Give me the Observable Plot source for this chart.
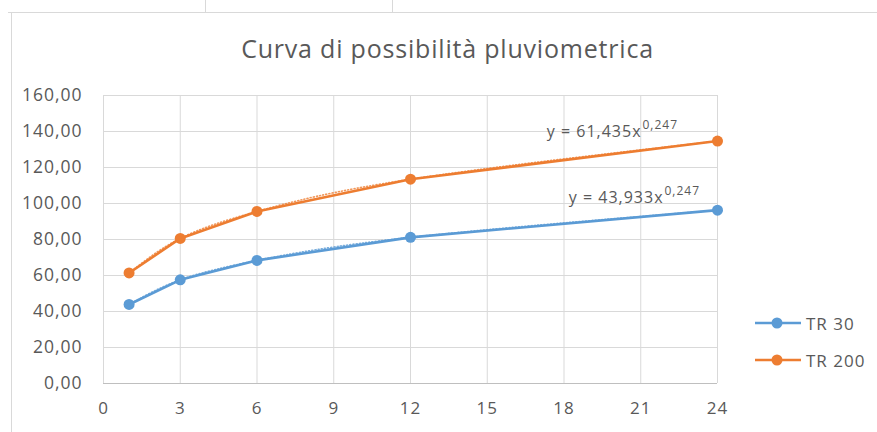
<!DOCTYPE html>
<html><head><meta charset="utf-8">
<script src="https://cdn.jsdelivr.net/npm/d3@7"></script>
<script src="https://cdn.jsdelivr.net/npm/@observablehq/plot@0.6"></script>
<style>
body{margin:0;background:#fff;font-family:"Open Sans",sans-serif;}
#wrap{position:relative;width:877px;height:432px;overflow:hidden;background:#fff;}
#wrap > svg{position:absolute;left:0;top:0;}
#wrap svg text{letter-spacing:1px;}
.deco{position:absolute;background:#d9d9d9;}
#title{position:absolute;left:9px;width:877px;top:30px;line-height:36px;text-align:center;font-size:25px;letter-spacing:0.8px;color:#595959;}
.leg{position:absolute;left:755px;height:20px;display:flex;align-items:center;font-size:17px;letter-spacing:1px;color:#595959;}
#wrap .leg svg{position:static;display:block;}
</style></head><body><div id="wrap">
<div class="deco" style="left:8px;top:12px;width:869px;height:1px"></div>
<div class="deco" style="left:205px;top:0;width:1px;height:12px"></div>
<div class="deco" style="left:392px;top:0;width:1px;height:12px"></div>
<div class="deco" style="left:11px;top:12px;width:1px;height:420px"></div>
<div id="title"></div>
</div>
<script>
const durations = [1, 3, 6, 12, 24];
const tr30 = [43.9, 57.6, 68.4, 81.2, 96.3];
const tr200 = [61.4, 80.6, 95.6, 113.5, 134.7];
const seriesNames = ["TR 30", "TR 200"];
const seriesColors = ["#5b9bd5", "#ed7d31"];
const trendBase = ["y = 43,933x", "y = 61,435x"];
const trendExp = ["0,247", "0,247"];
const xTicks = [0, 3, 6, 9, 12, 15, 18, 21, 24];
const yTicks = [0, 20, 40, 60, 80, 100, 120, 140, 160];
const chartTitle = "Curva di possibilità pluviometrica";

const rows = [];
durations.forEach((d, i) => {
  rows.push({x: d, y: tr30[i], s: seriesNames[0]});
  rows.push({x: d, y: tr200[i], s: seriesNames[1]});
});
const lastIdx = durations.length - 1;
const labels = [
  {x: durations[lastIdx], y: tr30[lastIdx], base: trendBase[0], exp: trendExp[0], s: seriesNames[0]},
  {x: durations[lastIdx], y: tr200[lastIdx], base: trendBase[1], exp: trendExp[1], s: seriesNames[1]}
];
const fmt = d => d.toFixed(2).replace(".", ",");

const chart = Plot.plot({
  width: 877, height: 432,
  marginLeft: 103, marginRight: 160, marginTop: 95, marginBottom: 49,
  x: {domain: [0, 24]},
  y: {domain: [0, 160]},
  color: {domain: seriesNames, range: seriesColors},
  style: {fontFamily: "Open Sans", fontSize: "17px", color: "#595959", background: "transparent"},
  marks: [
    Plot.gridX(xTicks, {stroke: "#d9d9d9", strokeOpacity: 1}),
    Plot.gridY(yTicks, {stroke: "#d9d9d9", strokeOpacity: 1}),
    Plot.ruleY([0], {stroke: "#bfbfbf"}),
    Plot.axisX(xTicks, {tickSize: 0, tickPadding: 18, label: null, fill: "#595959", fontSize: 17}),
    Plot.axisY(yTicks, {tickSize: 0, tickPadding: 21, label: null, tickFormat: fmt, fill: "#595959", fontSize: 17.5}),
    Plot.line(rows, {x: "x", y: "y", stroke: "s", z: "s", strokeWidth: 2.6}),
    Plot.line(rows, {x: "x", y: "y", stroke: "s", z: "s", curve: "natural", strokeWidth: 1.6, strokeDasharray: "1,2.2", strokeOpacity: 0.8}),
    Plot.dot(rows, {x: "x", y: "y", fill: "s", r: 5.5}),
    Plot.text(labels.slice(0,1), {x: "x", y: "y", text: "base", textAnchor: "end", dx: -54, dy: -12, fill: "#595959", fontSize: 16}),
    Plot.text(labels.slice(0,1), {x: "x", y: "y", text: "exp", textAnchor: "start", dx: -53, dy: -19, fill: "#595959", fontSize: 12}),
    Plot.text(labels.slice(1), {x: "x", y: "y", text: "base", textAnchor: "end", dx: -76, dy: -9, fill: "#595959", fontSize: 16}),
    Plot.text(labels.slice(1), {x: "x", y: "y", text: "exp", textAnchor: "start", dx: -75, dy: -16, fill: "#595959", fontSize: 12})
  ]
});
const wrap = document.getElementById("wrap");
wrap.appendChild(chart);
document.getElementById("title").textContent = chartTitle;

const legTops = [313, 350];
seriesNames.forEach((name, i) => {
  const div = document.createElement("div");
  div.className = "leg";
  div.style.top = legTops[i] + "px";
  div.innerHTML = `<svg width="48" height="20"><line x1="0" x2="46" y1="10" y2="10" stroke="${seriesColors[i]}" stroke-width="2.6"/><circle cx="22" cy="10" r="5.5" fill="${seriesColors[i]}"/></svg><span style="margin-left:3px">${name}</span>`;
  wrap.appendChild(div);
});
</script>
</body></html>
